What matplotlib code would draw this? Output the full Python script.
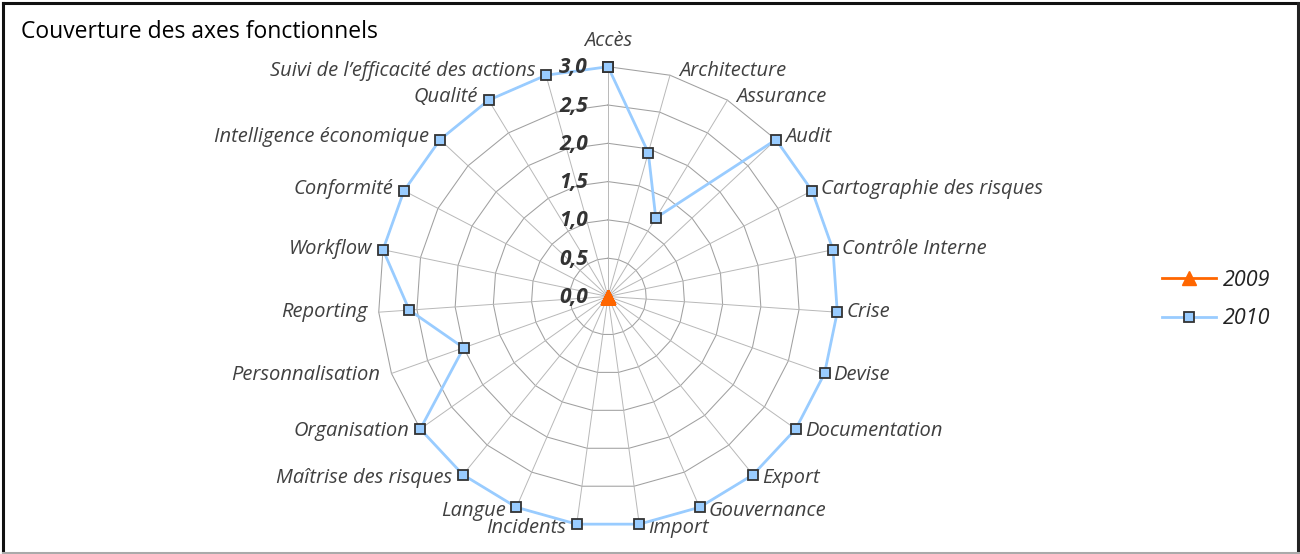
import numpy as np
import matplotlib
matplotlib.use("Agg")
import matplotlib.pyplot as plt
from matplotlib.lines import Line2D

plt.rcParams['font.family'] = ['Open Sans', 'DejaVu Sans']

# ---- data -------------------------------------------------------------
categories = [
    "Accès", "Architecture", "Assurance", "Audit", "Cartographie des risques",
    "Contrôle Interne", "Crise", "Devise", "Documentation", "Export",
    "Gouvernance", "Import", "Incidents", "Langue", "Maîtrise des risques",
    "Organisation", "Personnalisation", "Reporting", "Workflow", "Conformité",
    "Intelligence économique", "Qualité", "Suivi de l’efficacité des actions",
]
values_2009 = [0.0] * 23
values_2010 = [3.0, 1.95, 1.2, 3.0, 3.0, 3.0, 3.0, 3.0, 3.0, 3.0, 3.0, 3.0,
               3.0, 3.0, 3.0, 3.0, 2.0, 2.6, 3.0, 3.0, 3.0, 3.0, 3.0]
series_names = ["2009", "2010"]
r_ticks = [0.0, 0.5, 1.0, 1.5, 2.0, 2.5, 3.0]

# ---- figure -----------------------------------------------------------
W, H = 1300, 554
fig = plt.figure(figsize=(W / 100, H / 100), dpi=100)
fig.patch.set_facecolor("white")

cx, cy, R = 608, 296.5, 229.8
ax = fig.add_axes([(cx - R) / W, (H - cy - R) / H, 2 * R / W, 2 * R / H],
                  projection="polar")
ax.set_theta_zero_location("N")
ax.set_theta_direction(-1)
ax.set_ylim(0, r_ticks[-1])
ax.grid(False)
ax.set_xticks([])
ax.set_yticks([])
ax.spines["polar"].set_visible(False)
ax.patch.set_visible(False)

n = len(categories)
theta = np.arange(n) * 2 * np.pi / n
theta_closed = np.append(theta, theta[0])

# polygon rings
for lv in r_ticks[1:]:
    ax.plot(theta_closed, [lv] * (n + 1), color="#a0a0a0", lw=0.75,
            zorder=1, clip_on=False)
# spokes
for t in theta:
    ax.plot([t, t], [0, r_ticks[-1]], color="#b8b8b8", lw=0.7,
            zorder=1, clip_on=False)

# series
v10 = np.append(values_2010, values_2010[0])
ax.plot(theta_closed, v10, color="#99CCFF", lw=2.0, marker="s",
        markersize=7.5, markerfacecolor="#99CCFF", markeredgecolor="#333333",
        markeredgewidth=1.3, zorder=4, clip_on=False)
v09 = np.append(values_2009, values_2009[0])
ax.plot(theta_closed, v09, color="#FF6600", lw=2.0, marker="^",
        markersize=10, markerfacecolor="#FF6600", markeredgecolor="#FF6600",
        zorder=5, clip_on=False)

# radial value labels
for lv in r_ticks:
    ax.annotate(f"{lv:.1f}".replace(".", ","), xy=(0, lv), xytext=(-20, -1),
                textcoords="offset pixels", ha="right", va="center",
                fontsize=15, fontweight="bold", fontstyle="italic",
                color="#333333", zorder=6, annotation_clip=False)

# category labels
for t, name in zip(theta, categories):
    s, c = np.sin(t), np.cos(t)
    if abs(s) < 0.05:
        ha, dx, dy = "center", 0, 26
    elif s > 0:
        ha, dx, dy = "left", 9, 4 * c
    else:
        ha, dx, dy = "right", -11, 4 * c
    ax.annotate(name, xy=(t, r_ticks[-1]), xytext=(dx, dy),
                textcoords="offset pixels", ha=ha, va="center",
                fontsize=14.5, fontstyle="italic", color="#404040",
                annotation_clip=False)

# title
fig.text(21 / W, 1 - 38 / H, "Couverture des axes fonctionnels",
         fontsize=16.5, color="black", ha="left", va="baseline")

# legend
handles = [
    Line2D([], [], color="#FF6600", lw=2.0, marker="^", markersize=10,
           markerfacecolor="#FF6600", markeredgecolor="#FF6600"),
    Line2D([], [], color="#99CCFF", lw=2.0, marker="s", markersize=7.5,
           markerfacecolor="#99CCFF", markeredgecolor="#333333",
           markeredgewidth=1.3),
]
leg = fig.legend(handles, series_names, loc="center left",
                 bbox_to_anchor=(1162 / W, 1 - 299.5 / H), frameon=False,
                 borderpad=0, borderaxespad=0, handlelength=2.5,
                 handletextpad=0.35, labelspacing=0.8,
                 prop={"size": 15.5, "style": "italic"})
for txt in leg.get_texts():
    txt.set_color("#222222")

# outer border
border = dict(transform=fig.transFigure, lw=2.2)
fig.add_artist(Line2D([2.5 / W, 1297.5 / W], [1 - 3 / H, 1 - 3 / H],
                      color="#111111", **border))
fig.add_artist(Line2D([3 / W, 3 / W], [1 - 3 / H, 1 - 553 / H],
                      color="#111111", **border))
fig.add_artist(Line2D([1297.5 / W, 1297.5 / W], [1 - 3 / H, 1 - 553 / H],
                      color="#222222", **border))
fig.add_artist(Line2D([3 / W, 1297.5 / W], [1 - 553 / H, 1 - 553 / H],
                      color="#aaaaaa", **border))

fig.savefig("out.png", dpi=100, facecolor="white")
